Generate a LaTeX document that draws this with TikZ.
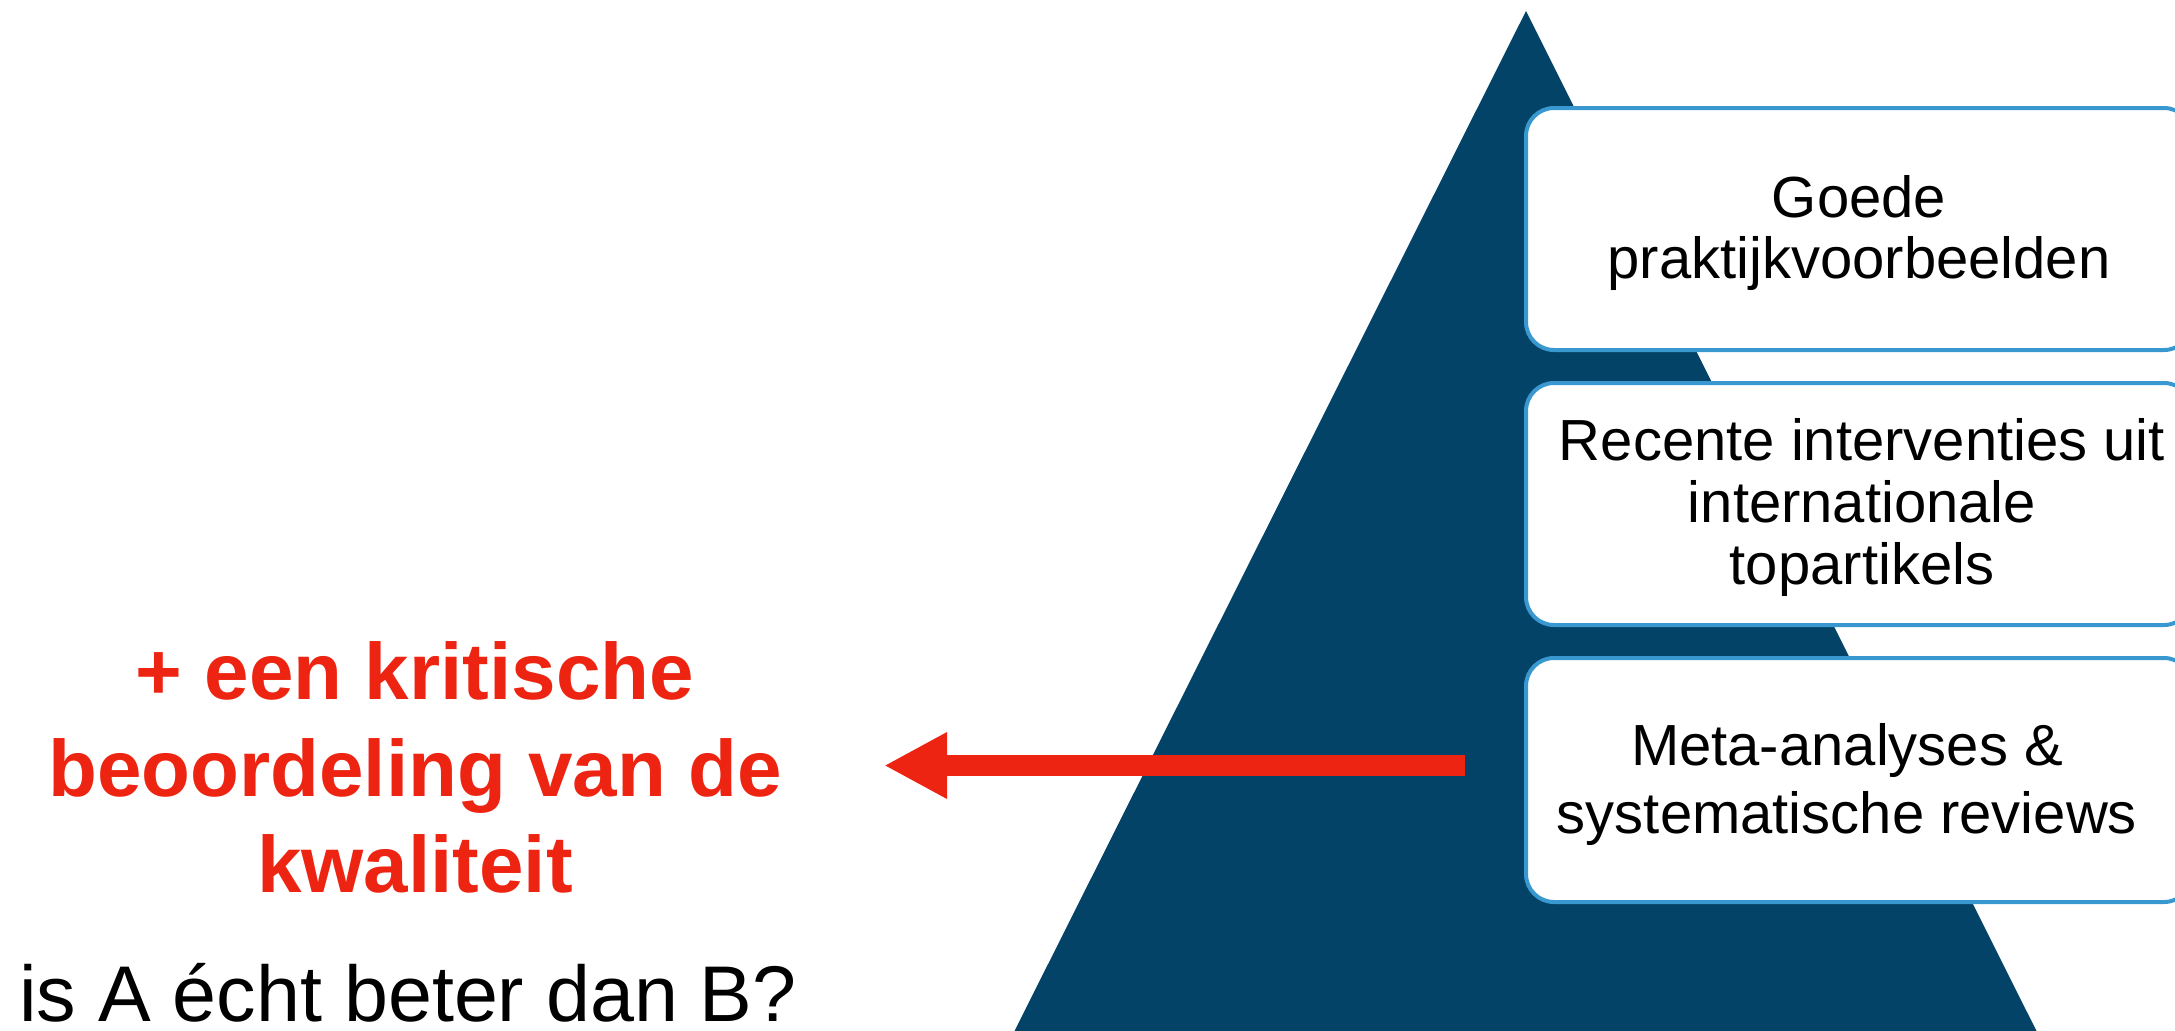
\documentclass[tikz,border=0pt]{standalone}
\usepackage{fontspec}
\setmainfont{Liberation Sans}
\usetikzlibrary{arrows.meta}
\definecolor{navy}{RGB}{3,67,104}
\definecolor{boxblue}{RGB}{58,152,208}
\definecolor{hotred}{RGB}{238,36,18}
\tikzset{
  levelbox/.style={draw=boxblue, fill=white, line width=2pt, rounded corners=14pt,
    minimum width=333pt, inner sep=0pt, outer sep=0pt},
  boxtext/.style={anchor=base, inner sep=0pt, font=\fontsize{29}{31}\selectfont, text=black},
  redtext/.style={anchor=base, inner sep=0pt, font=\fontsize{40}{48}\bfseries\selectfont, text=hotred},
  plaintext/.style={anchor=base west, inner sep=0pt, font=\fontsize{39.5}{47}\selectfont, text=black}
}
\begin{document}
\begin{tikzpicture}[x=0.5pt,y=-0.5pt]
\useasboundingbox (0,0) rectangle (2175,1030);
\clip (0,0) rectangle (2175,1030);
% pyramid
\fill[navy] (1526,11) -- (2039,1036) -- (1012,1036) -- cycle;
% level boxes
\node[levelbox, minimum height=121pt] (b1) at (1859,229) {};
\node[levelbox, minimum height=121pt] (b2) at (1859,504) {};
\node[levelbox, minimum height=122pt] (b3) at (1859,780) {};
% box texts
\node[boxtext] (t11) at (1859,217) {Goede};
\node[boxtext] (t12) at (1859,278) {praktijkvoorbeelden};
\node[boxtext] (t21) at (1862,460) {Recente interventies uit};
\node[boxtext] (t22) at (1862,522) {internationale};
\node[boxtext] (t23) at (1862,584) {topartikels};
\node[boxtext] (t31) at (1847,765) {Meta-analyses \&};
\node[boxtext] (t32) at (1847,833) {systematische reviews};
% red text
\node[redtext] (r1) at (415,699) {+ een kritische};
\node[redtext] (r2) at (415,796) {beoordeling van de};
\node[redtext] (r3) at (415,892) {kwaliteit};
% question
\node[plaintext] (q) at (19,1021) {\smash{is A écht beter dan B?}};
% arrow
\coordinate (arrS) at (1465,765.5);
\coordinate (arrE) at (884,765.5);
\draw[hotred, line width=10.5pt, -{Triangle[length=31.5pt, width=31pt]}] (arrS) -- (arrE);
\end{tikzpicture}
\end{document}
